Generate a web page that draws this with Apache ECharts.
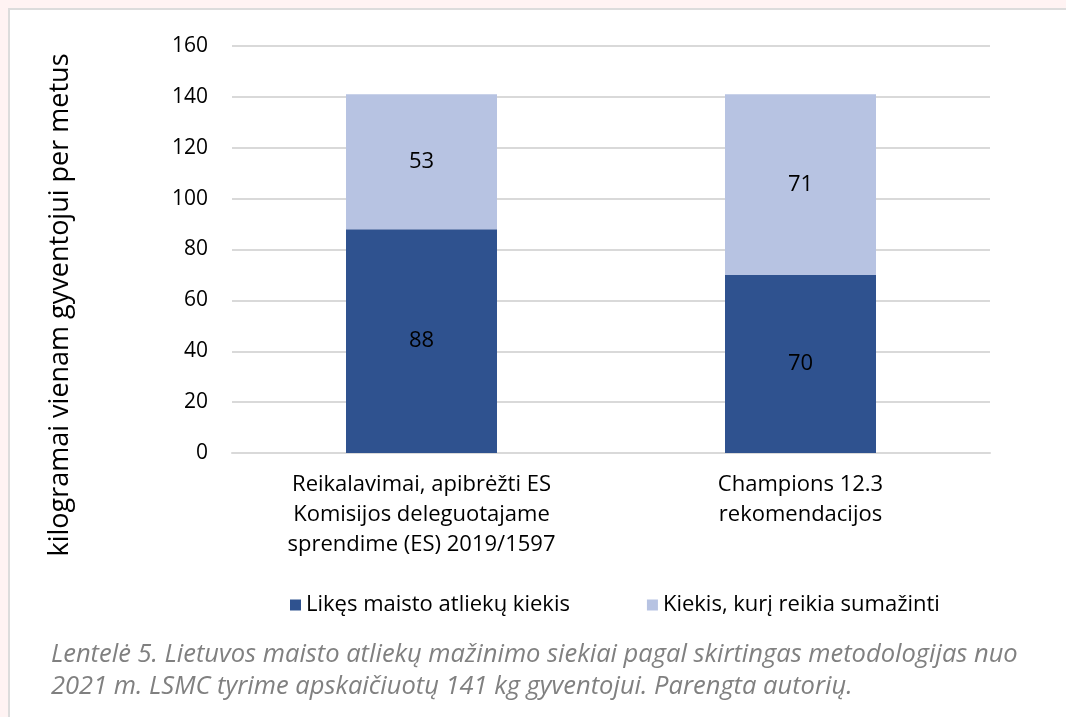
<!DOCTYPE html>
<html>
<head>
<meta charset="utf-8">
<script src="https://cdn.jsdelivr.net/npm/echarts@6/dist/echarts.min.js"></script>
<style>
  html, body { margin: 0; padding: 0; background: #fff3f3; }
  .Panel {
    position: absolute; left: 8px; top: 8px; width: 1070px; height: 720px;
    background: #ffffff; border: 2px solid #dcdcdc; box-sizing: border-box;
  }
  #Chart { position: absolute; left: 0; top: 0; width: 1066px; height: 717px; }
</style>
</head>
<body>
<div class="Panel"></div>
<div id="Chart"></div>
<script>
const categories = [
  'Reikalavimai, apibrėžti ES\nKomisijos deleguotajame\nsprendime (ES) 2019/1597',
  'Champions 12.3\nrekomendacijos'
]
const remainingValues = [88, 70]
const reduceValues = [53, 71]
const seriesNames = ['Likęs maisto atliekų kiekis', 'Kiekis, kurį reikia sumažinti']
const yAxisName = 'kilogramai vienam gyventojui per metus'
const caption = 'Lentelė 5. Lietuvos maisto atliekų mažinimo siekiai pagal skirtingas metodologijas nuo\n2021 m. LSMC tyrime apskaičiuotų 141 kg gyventojui. Parengta autorių.'

const font = 'Open Sans'
const chart = echarts.init(document.getElementById('Chart'))

chart.setOption({
  animation: false,
  textStyle: { fontFamily: font },
  grid: { left: 232, right: 76, top: 46, bottom: 264 },
  legend: {
    left: 285, top: 589,
    itemWidth: 11, itemHeight: 11, itemGap: 77,
    icon: 'rect',
    textStyle: { fontSize: 22, color: '#000000', fontFamily: font },
    data: seriesNames
  },
  xAxis: {
    type: 'category',
    data: categories,
    axisLine: { lineStyle: { color: '#d9d9d9', width: 2 } },
    axisTick: { show: false },
    axisLabel: { color: '#000000', fontSize: 22, lineHeight: 30, margin: 17, interval: 0 }
  },
  yAxis: {
    type: 'value',
    min: 0, max: 160, interval: 20,
    axisLine: { show: false },
    axisTick: { show: false },
    splitLine: { lineStyle: { color: '#d9d9d9', width: 2 } },
    axisLabel: { color: '#000000', fontSize: 21, margin: 24 }
  },
  graphic: [
    {
      type: 'text', x: 60, y: 305, rotation: Math.PI / 2,
      style: { text: yAxisName, fontSize: 27, fontFamily: font, fill: '#000000', align: 'center', verticalAlign: 'middle' }
    },
    {
      type: 'text', left: 51, top: 639,
      style: { text: caption, fontSize: 25.5, fontStyle: 'italic', fontFamily: font, fill: '#808080', lineHeight: 32 }
    }
  ],
  series: [
    {
      name: seriesNames[0], type: 'bar', stack: 'total', barWidth: 151,
      data: remainingValues,
      itemStyle: { color: '#2f528f' },
      label: { show: true, position: 'inside', color: '#000000', fontSize: 22, fontFamily: font }
    },
    {
      name: seriesNames[1], type: 'bar', stack: 'total', barWidth: 151,
      data: reduceValues,
      itemStyle: { color: '#b7c3e2' },
      label: { show: true, position: 'inside', color: '#000000', fontSize: 22, fontFamily: font }
    }
  ]
})
</script>
</body>
</html>
